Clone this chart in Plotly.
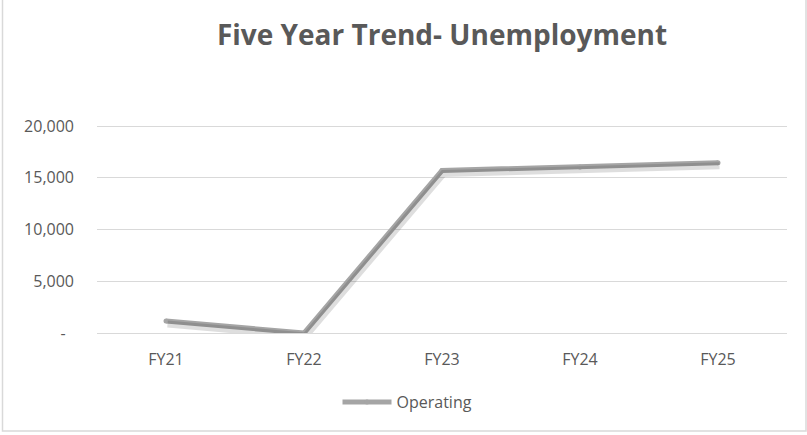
import plotly.graph_objects as go

# Fiscal years and operating unemployment cost
years = ["FY21", "FY22", "FY23", "FY24", "FY25"]
operating = [1150, 0, 15700, 16050, 16450]

# y-axis ticks (accounting style: zero shown as a dash)
tick_vals = [0, 5000, 10000, 15000, 20000]
tick_text = ["-\u00a0\u00a0", "5,000", "10,000", "15,000", "20,000"]

TEXT = "#595959"
GRID = "#d9d9d9"
LINE = "#a5a5a5"
FONT = "Open Sans"

PLOT_H = 210                     # plot-area height in pixels
Y_MAX = 20000 * PLOT_H / 207     # headroom so the top gridline is drawn

fig = go.Figure()

# soft drop shadow under the series, drawn on a slightly offset overlay axis
fig.add_trace(go.Scatter(
    x=years, y=operating, mode="lines",
    line=dict(color="rgba(0,0,0,0.13)", width=7),
    xaxis="x2", yaxis="y2", showlegend=False, hoverinfo="skip",
))

fig.add_trace(go.Scatter(
    x=years, y=operating, name="Operating", mode="lines+markers",
    line=dict(color=LINE, width=5),
    marker=dict(color=LINE, size=5),
))

px_x = 138.0             # pixels per category
px_y = Y_MAX / PLOT_H    # value per pixel
dx, dy = 1.5, 3.0

fig.update_layout(
    width=807, height=435,
    margin=dict(l=97, r=20, t=435 - 102 - PLOT_H, b=102),
    paper_bgcolor="white", plot_bgcolor="white",
    font=dict(family=FONT, color=TEXT, size=16),
    title=dict(
        text="<b>Five Year Trend- Unemployment</b>",
        font=dict(family=FONT, size=28, color=TEXT),
        x=0.5, xref="paper", xanchor="center",
        y=1 - 35 / 435, yref="container", yanchor="middle",
    ),
    xaxis=dict(
        type="category", categoryorder="array", categoryarray=years,
        range=[-0.5, 4.5], showgrid=False, showline=True,
        linecolor=GRID, linewidth=1, ticks="",
        ticklabelstandoff=12, tickfont=dict(size=16, color=TEXT),
    ),
    yaxis=dict(
        range=[0, Y_MAX], tickvals=tick_vals, ticktext=tick_text,
        showgrid=True, gridcolor=GRID, gridwidth=1, zeroline=False,
        showline=False, ticks="", ticklabelstandoff=22,
        tickfont=dict(size=16, color=TEXT),
    ),
    xaxis2=dict(
        type="category", categoryorder="array", categoryarray=years,
        range=[-0.5 - dx / px_x, 4.5 - dx / px_x], overlaying="x",
        visible=False,
    ),
    yaxis2=dict(
        range=[dy * px_y, Y_MAX + dy * px_y], overlaying="y",
        visible=False,
    ),
    legend=dict(
        orientation="h", x=0.45, xanchor="center",
        y=(333 - 402) / PLOT_H, yanchor="middle",
        itemwidth=49, font=dict(size=16, color=TEXT),
        bgcolor="rgba(0,0,0,0)",
    ),
    showlegend=True,
)

# light chart-area border
fig.add_shape(
    type="rect", xref="paper", yref="paper",
    x0=(2.5 - 97) / 690, x1=(806 - 97) / 690,
    y0=(333 - 431) / PLOT_H, y1=(333 + 3) / PLOT_H,
    line=dict(color=GRID, width=1.5), fillcolor="rgba(0,0,0,0)", layer="below",
)

fig.write_html("out.html")
